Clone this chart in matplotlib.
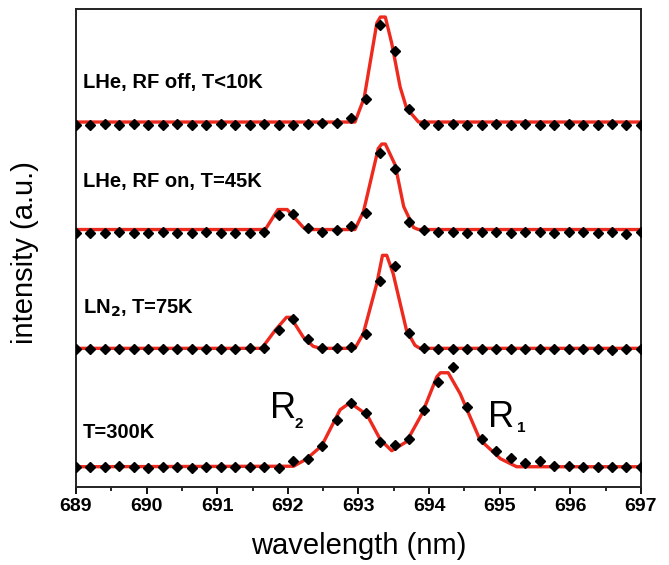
import numpy as np
import matplotlib
matplotlib.use('Agg')
import matplotlib.pyplot as plt

plt.rcParams['font.family'] = ['Liberation Sans', 'DejaVu Sans']

# measured wavelengths (nm), 40 samples across the window
wavelength = np.linspace(689, 697, 40)

# measured intensity (a.u.), relative to each trace's own baseline
int_rf_off = [-0.03, -0.03, -0.02, -0.03, -0.02, -0.03, -0.03, -0.02, -0.03, -0.03,
              -0.02, -0.03, -0.03, -0.02, -0.03, -0.03, -0.02, -0.01, -0.01, 0.04,
              0.23, 0.97, 0.71, 0.13, -0.02, -0.03, -0.02, -0.03, -0.03, -0.02,
              -0.03, -0.02, -0.03, -0.03, -0.02, -0.03, -0.03, -0.02, -0.03, -0.03]
int_rf_on = [-0.03, -0.03, -0.03, -0.02, -0.03, -0.03, -0.02, -0.03, -0.03, -0.02,
             -0.03, -0.03, -0.03, -0.02, 0.145, 0.155, 0.02, -0.02, 0.0, 0.035,
             0.17, 0.77, 0.61, 0.08, -0.005, -0.02, -0.02, -0.03, -0.02, -0.02,
             -0.03, -0.02, -0.02, -0.03, -0.02, -0.02, -0.03, -0.02, -0.04, -0.02]
int_ln2 = [-0.01, -0.01, -0.005, -0.01, -0.01, -0.005, -0.01, -0.01, -0.005, -0.01,
           -0.01, -0.01, 0.0, 0.005, 0.18, 0.29, 0.09, 0.005, 0.0, 0.015,
           0.14, 0.67, 0.82, 0.15, 0.0, -0.01, -0.01, -0.005, -0.01, -0.01,
           -0.005, -0.01, -0.01, -0.01, -0.005, -0.01, -0.01, -0.015, -0.01, -0.01]
int_300k = [-0.005, -0.005, 0.0, 0.005, -0.005, -0.01, -0.005, -0.005, -0.01, -0.005,
            -0.005, -0.005, -0.005, 0.0, -0.015, 0.06, 0.075, 0.205, 0.465, 0.64,
            0.54, 0.25, 0.215, 0.275, 0.565, 0.85, 1.0, 0.595, 0.275, 0.16,
            0.085, 0.04, 0.06, 0.01, 0.01, -0.005, -0.005, -0.005, -0.005, -0.005]

# fitted curves (red)
fit_rf_off_x = [689.0, 692.95, 693.08, 693.26, 693.31, 693.38, 693.47, 693.59, 693.68, 693.85, 697.0]
fit_rf_off_y = [0.0, 0.0, 0.24, 0.99, 1.05, 1.05, 0.79, 0.35, 0.14, 0.0, 0.0]
fit_rf_on_x = [689.0, 691.68, 691.86, 691.99, 692.22, 692.31, 692.95, 693.07, 693.28, 693.33,
               693.38, 693.52, 693.64, 693.78, 693.85, 697.0]
fit_rf_on_y = [0.0, 0.0, 0.20, 0.20, 0.02, 0.0, 0.0, 0.18, 0.81, 0.855,
               0.855, 0.645, 0.23, 0.02, 0.0, 0.0]
fit_ln2_x = [689.0, 691.63, 691.82, 691.98, 692.04, 692.22, 692.36, 692.46, 692.95, 693.07,
             693.26, 693.34, 693.40, 693.49, 693.68, 693.80, 693.87, 697.0]
fit_ln2_y = [0.0, 0.0, 0.18, 0.31, 0.31, 0.11, 0.02, 0.0, 0.0, 0.15,
             0.65, 0.93, 0.93, 0.75, 0.18, 0.03, 0.0, 0.0]
fit_300k_x = [689.0, 692.08, 692.26, 692.48, 692.74, 692.88, 693.12, 693.31, 693.47, 693.68,
              693.90, 694.11, 694.16, 694.27, 694.44, 694.72, 695.01, 695.24, 697.0]
fit_300k_y = [0.0, 0.005, 0.075, 0.21, 0.57, 0.64, 0.52, 0.27, 0.16, 0.25,
              0.53, 0.90, 0.94, 0.94, 0.73, 0.27, 0.08, 0.0, 0.0]

# vertical offsets of the stacked spectra
offsets = [3.65, 2.575, 1.387, 0.203]
labels = ['LHe, RF off, T<10K', 'LHe, RF on, T=45K', r'LN$_\mathbf{2}$, T=75K', 'T=300K']

points = [int_rf_off, int_rf_on, int_ln2, int_300k]
fits = [(fit_rf_off_x, fit_rf_off_y), (fit_rf_on_x, fit_rf_on_y),
        (fit_ln2_x, fit_ln2_y), (fit_300k_x, fit_300k_y)]

fig = plt.figure(figsize=(6.69, 5.65), dpi=100)
ax = fig.add_axes([0.1136, 0.138, 0.8445, 0.846])

red = '#ee2a1f'
for pts, (fx, fy), off in zip(points, fits, offsets):
    ax.plot(fx, np.array(fy) + off, color=red, lw=2.4, zorder=2)
    ax.plot(wavelength, np.array(pts) + off, ls='none', marker='D', ms=5.5,
            color='black', zorder=3)

# trace labels
label_y = [4.05, 3.06, 1.79, 0.55]
for txt, ly in zip(labels, label_y):
    ax.text(689.1, ly, txt, fontsize=14.5, fontweight='bold', va='center', ha='left')

# line assignments on the room-temperature spectrum
ax.text(691.75, 0.69, 'R', fontsize=26, va='baseline', ha='left')
ax.text(692.10, 0.59, '2', fontsize=11, fontweight='bold', va='baseline', ha='left')
ax.text(694.84, 0.60, 'R', fontsize=26, va='baseline', ha='left')
ax.text(695.24, 0.55, '1', fontsize=11, fontweight='bold', va='baseline', ha='left')

ax.set_xlim(689, 697)
ax.set_ylim(0, 4.78)
ax.set_xticks(np.arange(689, 698, 1))
ax.set_xticks(np.arange(689.5, 697, 1), minor=True)
ax.set_yticks([])
ax.tick_params(axis='x', which='major', direction='out', length=5, width=1.3,
               labelsize=14, pad=3)
ax.tick_params(axis='x', which='minor', direction='out', length=3, width=1.2)
for lab in ax.get_xticklabels():
    lab.set_fontweight('bold')
for sp in ax.spines.values():
    sp.set_linewidth(1.4)
    sp.set_color('#222222')

ax.set_xlabel('wavelength (nm)', fontsize=21, labelpad=12)
ax.set_ylabel('intensity (a.u.)', fontsize=21, labelpad=12)
ax.yaxis.set_label_coords(-0.066, 0.49)

fig.savefig('out.png', dpi=100, facecolor='white')
